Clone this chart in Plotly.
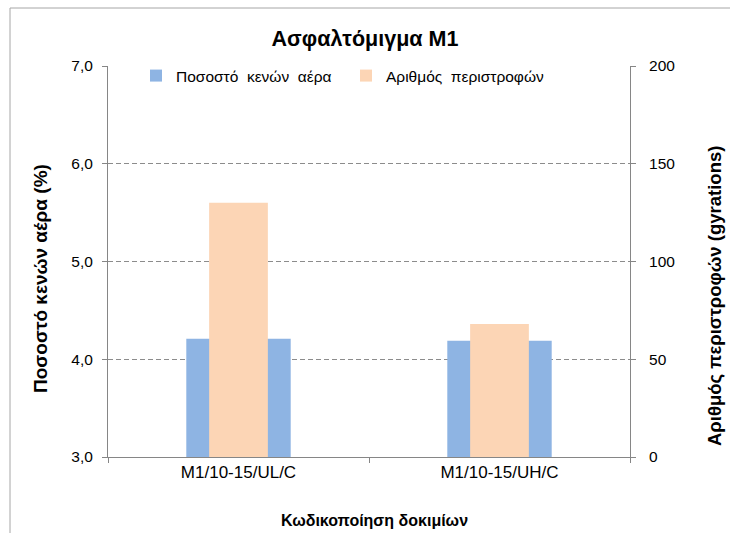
import plotly.graph_objects as go

categories = ["M1/10-15/UL/C", "M1/10-15/UH/C"]
air_voids = [4.21, 4.19]          # Ποσοστό κενών αέρα (%)
gyrations = [130, 68]             # Αριθμός περιστροφών

W, H = 730, 533
ML, MR, MT, MB = 108, 100, 66, 76
PW, PH = W - ML - MR, H - MT - MB

FONT = "Liberation Sans, Arial, sans-serif"
AXIS_COL = "#868686"
GRID_COL = "#8C8C8C"

BLUE_W, ORANGE_W = 0.4, 0.225

fig = go.Figure()
fig.add_trace(go.Bar(
    x=categories, y=air_voids, name="Ποσοστό  κενών  αέρα",
    marker=dict(color="#8EB4E3", line=dict(width=0)),
    width=BLUE_W, offset=-BLUE_W / 2, yaxis="y",
))
fig.add_trace(go.Bar(
    x=categories, y=gyrations, name="Αριθμός  περιστροφών",
    marker=dict(color="#FCD5B5", line=dict(width=0)),
    width=ORANGE_W, offset=-ORANGE_W / 2, yaxis="y2",
))


def px_x(v):
    return (v - ML) / PW


def px_y(v):
    return (H - MB - v) / PH


# chart-area frame (runs off the right and bottom edges)
fig.add_shape(type="rect", xref="paper", yref="paper",
              x0=px_x(10), x1=px_x(760), y0=px_y(560), y1=px_y(8),
              line=dict(color="#A6A6A6", width=1), fillcolor="rgba(0,0,0,0)",
              layer="below")

# axis titles
fig.add_annotation(text="<b>Ποσοστό κενών αέρα (%)</b>", textangle=-90,
                   xref="paper", yref="paper", x=px_x(40), y=px_y(279),
                   xanchor="center", yanchor="middle", showarrow=False,
                   font=dict(size=19, family=FONT, color="#000000"))
fig.add_annotation(text="<b>Αριθμός περιστροφών (gyrations)</b>", textangle=-90,
                   xref="paper", yref="paper", x=px_x(714), y=px_y(296),
                   xanchor="center", yanchor="middle", showarrow=False,
                   font=dict(size=18.5, family=FONT, color="#000000"))
fig.add_annotation(text="<b>Κωδικοποίηση δοκιμίων</b>",
                   xref="paper", yref="paper", x=px_x(374), y=px_y(520),
                   xanchor="center", yanchor="middle", showarrow=False,
                   font=dict(size=16, family=FONT, color="#000000"))

fig.update_layout(
    width=W, height=H,
    margin=dict(l=ML, r=MR, t=MT, b=MB, autoexpand=False),
    paper_bgcolor="white", plot_bgcolor="white",
    separators=",.",
    barmode="overlay",
    font=dict(family=FONT, size=15, color="#000000"),
    title=dict(text="<b>Ασφαλτόμιγμα M1</b>", x=0.5, xref="container",
               y=1 - 38 / H, yref="container", yanchor="middle",
               font=dict(size=21.5, family=FONT, color="#000000")),
    showlegend=True,
    legend=dict(orientation="h", x=px_x(136), y=px_y(76), xanchor="left", yanchor="middle",
                bgcolor="rgba(0,0,0,0)", font=dict(size=15.5, family=FONT, color="#000000"),
                traceorder="normal", entrywidth=165),
    xaxis=dict(
        type="category", showgrid=False, showline=True, linecolor=AXIS_COL, linewidth=1,
        ticks="outside", tickson="boundaries", ticklen=5, tickcolor=AXIS_COL,
        tickfont=dict(size=17, family=FONT, color="#000000"),
        range=[-0.5, 1.5], automargin=False,
    ),
    yaxis=dict(
        range=[3, 7], dtick=1, tickformat=".1f", showline=True, linecolor=AXIS_COL,
        ticks="outside", ticklen=5, tickcolor=AXIS_COL, ticklabelstandoff=6,
        showgrid=True, gridcolor=GRID_COL, griddash="5px,3px", gridwidth=1,
        zeroline=False, automargin=False,
        tickfont=dict(size=15.5, family=FONT, color="#000000"),
    ),
    yaxis2=dict(
        range=[0, 200], dtick=50, overlaying="y", side="right", showline=True,
        linecolor=AXIS_COL, ticks="outside", ticklen=5, tickcolor=AXIS_COL,
        ticklabelstandoff=10, showgrid=False, zeroline=False, automargin=False,
        tickfont=dict(size=15.5, family=FONT, color="#000000"),
    ),
)

fig.write_html("out.html")
